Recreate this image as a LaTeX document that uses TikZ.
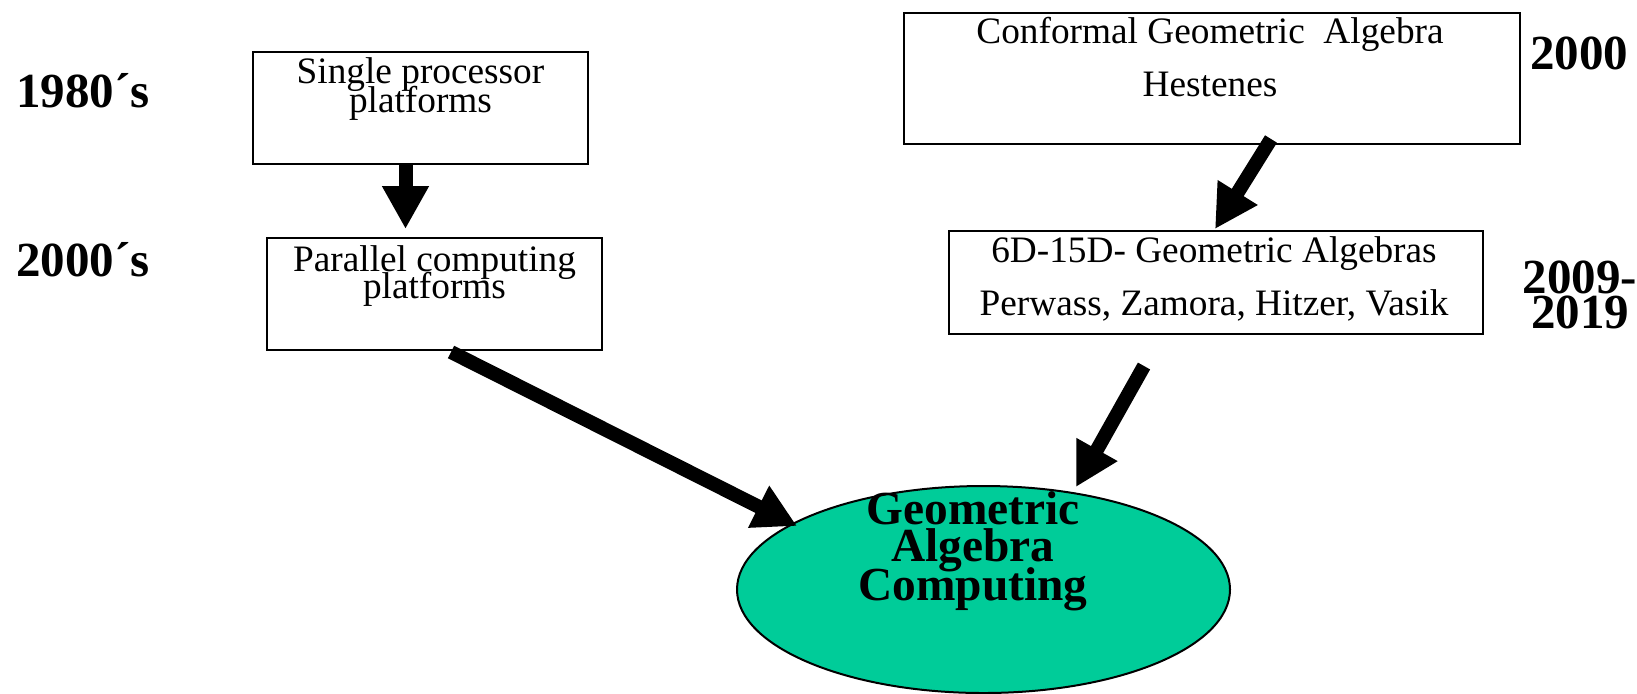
\documentclass[tikz,border=0pt]{standalone}
\usepackage{fontspec}
\setmainfont{Liberation Serif}
\usetikzlibrary{arrows.meta,shapes.geometric}

\definecolor{gacgreen}{HTML}{00CC99}

\tikzset{
  box/.style={draw=black, line width=1.2pt, rectangle, inner sep=0pt},
  boxtext/.style={anchor=base, inner sep=0pt, font=\fontsize{18.65}{20}\selectfont},
  era/.style={anchor=base, inner sep=0pt, font=\fontsize{24.5}{26}\selectfont\bfseries},
  core/.style={anchor=base, inner sep=0pt, font=\fontsize{23.7}{25}\selectfont\bfseries},
  bigarrow/.style={line width=7pt, -{Triangle[length=21.5pt, width=22pt]}}
}

\begin{document}
\begin{tikzpicture}[x=0.5pt, y=-0.5pt]
\useasboundingbox (0,0) rectangle (1637,693);

% left column: platforms
\node[box, minimum width=167.5pt, minimum height=56pt] (single) at (420.5,108) {};
\node[box, minimum width=167.5pt, minimum height=56pt] (parallel) at (434.5,294) {};
\node[boxtext] (single1) at (420.5,83) {Single processor};
\node[boxtext] (single2) at (420.5,112) {platforms};
\node[boxtext] (parallel1) at (434.5,271) {Parallel computing};
\node[boxtext] (parallel2) at (434.5,298) {platforms};

% right column: algebras
\node[box, minimum width=308pt, minimum height=65.5pt] (cga) at (1212,78.5) {};
\node[box, minimum width=267pt, minimum height=51.5pt] (hd) at (1216,282.5) {};
\node[boxtext] (cga1) at (1210,43) {Conformal Geometric\ \ Algebra};
\node[boxtext] (cga2) at (1210,96) {Hestenes};
\node[boxtext] (hd1) at (1214,262) {6D-15D- Geometric Algebras};
\node[boxtext] (hd2) at (1214,315) {Perwass, Zamora, Hitzer, Vasik};

% time labels
\node[era, anchor=base west] (y1980) at (16,107) {1980´s};
\node[era, anchor=base west] (y2000s) at (16,276) {2000´s};
\node[era, anchor=base west] (y2000) at (1530,69) {2000};
\node[era] (y2009) at (1580,293) {2009-};
\node[era] (y2019) at (1580,328) {2019};

% target
\node[ellipse, draw=black, line width=1pt, fill=gacgreen,
      minimum width=246.5pt, minimum height=103.5pt, inner sep=0pt] (gac) at (983.5,589.5) {};
\node[core] (gac1) at (973,524) {Geometric};
\node[core] (gac2) at (973,561) {Algebra};
\node[core] (gac3) at (973,600) {Computing};

% arrows
\coordinate (a1tip) at (405.5,229);
\coordinate (a2tail) at (451,352);
\coordinate (a2tip) at (797,526);
\coordinate (a3tail) at (1271,139);
\coordinate (a3tip) at (1215,229);
\coordinate (a4tail) at (1144,366);
\coordinate (a4tip) at (1076,487);

\draw[bigarrow] (single.south -| a1tip) -- (a1tip);
\draw[bigarrow] (a2tail) -- (a2tip);
\draw[bigarrow] (a3tail) -- (a3tip);
\draw[bigarrow] (a4tail) -- (a4tip);
\end{tikzpicture}
\end{document}
